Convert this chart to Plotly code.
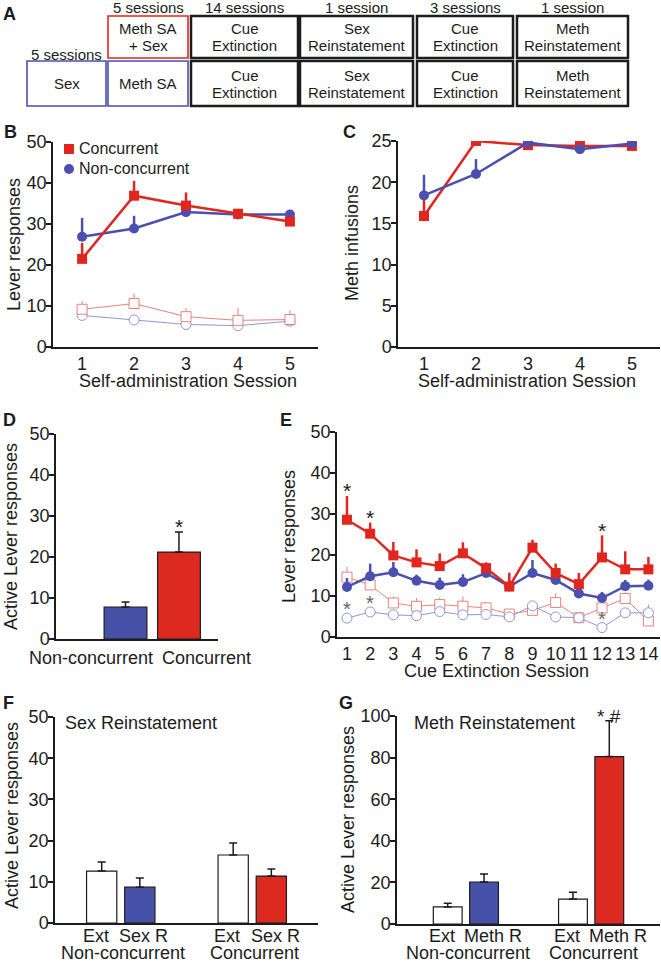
import plotly.graph_objects as go

W, H = 661, 962
FONT = "Liberation Sans, Arial, sans-serif"
INK = "#1c1c1c"
RED = "#E0261E"
BLUE = "#4A4FB0"
RED_LIGHT = "#E8837E"
BLUE_LIGHT = "#9296D4"
RED_BAR = "#DC2A20"
BLUE_BAR = "#4652A8"

# A: procedure
a_pre_count = "5 sessions"
a_session_counts = ["5 sessions", "14 sessions", "1 session", "3 sessions", "1 session"]
a_concurrent_steps = ["Meth SA<br>+ Sex", "Cue<br>Extinction", "Sex<br>Reinstatement",
                      "Cue<br>Extinction", "Meth<br>Reinstatement"]
a_nonconcurrent_steps = ["Sex", "Meth SA", "Cue<br>Extinction", "Sex<br>Reinstatement",
                         "Cue<br>Extinction", "Meth<br>Reinstatement"]

# B / C: self-administration
sa_session = [1, 2, 3, 4, 5]
b_conc_active = [21.5, 36.9, 34.5, 32.5, 30.6]
b_conc_active_err = [3.9, 3.6, 3.2, 1.2, 0.5]
b_nonc_active = [26.9, 28.9, 32.9, 32.3, 32.3]
b_nonc_active_err = [4.6, 3.1, 0.5, 0.5, 0.4]
b_conc_inactive = [9.2, 10.6, 7.4, 6.5, 6.7]
b_conc_inactive_err = [2.0, 2.5, 2.0, 3.1, 2.3]
b_nonc_inactive = [7.7, 6.6, 5.5, 5.2, 6.3]
b_nonc_inactive_err = [0.3, 0.3, 0.3, 0.3, 0.3]

c_conc = [15.9, 25.0, 24.5, 24.4, 24.4]
c_conc_err = [2.0, 0.1, 0.3, 0.6, 0.3]
c_nonc = [18.4, 21.0, 24.8, 24.0, 24.7]
c_nonc_err = [2.5, 1.8, 0.2, 0.3, 0.2]

# D: active lever, mean of SA
d_groups = ["Non-concurrent", "Concurrent"]
d_vals = [7.8, 21.2]
d_err = [1.2, 4.9]

# E: cue extinction
ext_session = list(range(1, 15))
e_conc_active = [28.6, 25.2, 19.9, 18.2, 17.3, 20.4, 16.8, 12.3, 21.8, 15.6, 12.9, 19.4, 16.5, 16.5]
e_conc_active_err = [5.8, 2.7, 3.3, 3.2, 3.1, 2.7, 1.4, 3.4, 1.9, 2.3, 2.7, 5.4, 4.4, 3.0]
e_nonc_active = [12.2, 14.8, 15.8, 13.7, 12.7, 13.4, 15.6, 12.3, 15.6, 13.9, 10.6, 9.5, 12.4, 12.5]
e_nonc_active_err = [2.2, 3.1, 2.5, 1.5, 1.8, 1.9, 1.2, 1.5, 3.2, 1.5, 1.3, 1.5, 1.5, 1.5]
e_conc_inactive = [14.6, 12.7, 8.3, 7.5, 7.9, 7.5, 7.1, 5.6, 6.5, 8.4, 4.7, 7.1, 9.4, 3.9]
e_conc_inactive_err = [2.5, 2.0, 1.5, 2.0, 1.8, 2.4, 1.4, 1.0, 1.2, 2.2, 1.0, 1.9, 1.5, 1.5]
e_nonc_inactive = [4.6, 6.1, 5.4, 5.2, 6.2, 5.4, 5.5, 4.9, 7.6, 4.9, 4.7, 2.3, 5.9, 5.9]
e_nonc_inactive_err = [0.8, 1.0, 0.6, 0.5, 0.7, 0.6, 0.6, 0.5, 1.0, 0.5, 0.5, 0.6, 0.7, 2.0]
e_star_active = [1, 2, 12]
e_star_inactive = [1, 2, 12]

# F / G: reinstatement
groups = ["Non-concurrent", "Concurrent"]
f_labels = ["Ext", "Sex R"]
f_ext = [12.6, 16.5]
f_ext_err = [2.2, 2.9]
f_rein = [8.7, 11.4]
f_rein_err = [2.2, 1.7]
g_labels = ["Ext", "Meth R"]
g_ext = [8.2, 12.0]
g_ext_err = [1.8, 3.3]
g_rein = [20.2, 80.5]
g_rein_err = [3.8, 17.2]

BAR_W = 0.23
OFFSETS = [-0.26, 0.03]


def xd(x0, x1):
    return [x0 / W, x1 / W]


def yd(top, bottom):
    return [1 - bottom / H, 1 - top / H]


def px(x, y):
    return x / W, 1 - y / H


def line(x, y, err, color, symbol, filled, width, ax):
    return go.Scatter(
        x=x, y=y, mode="lines+markers", xaxis="x" + ax, yaxis="y" + ax,
        line=dict(color=color, width=width),
        marker=dict(symbol=symbol, size=10, color=color if filled else "white",
                    line=dict(color=color, width=0 if filled else 1)),
        error_y=dict(type="data", symmetric=False, array=err, arrayminus=[0] * len(err),
                     color=color, thickness=width, width=0),
        showlegend=False)


def bar(x, y, err, colors, ax, width, offset=None):
    return go.Bar(
        x=x, y=y, xaxis="x" + ax, yaxis="y" + ax, width=width, offset=offset,
        marker=dict(color=colors, line=dict(color=INK, width=1.2)),
        error_y=dict(type="data", symmetric=False, array=err, arrayminus=[0] * len(err),
                     color=INK, thickness=1.5, width=4),
        showlegend=False)


fig = go.Figure()

# B
fig.add_trace(line(sa_session, b_nonc_inactive, b_nonc_inactive_err, BLUE_LIGHT, "circle", False, 1, ""))
fig.add_trace(line(sa_session, b_conc_inactive, b_conc_inactive_err, RED_LIGHT, "square", False, 1, ""))
fig.add_trace(line(sa_session, b_nonc_active, b_nonc_active_err, BLUE, "circle", True, 2.5, ""))
fig.add_trace(line(sa_session, b_conc_active, b_conc_active_err, RED, "square", True, 2.5, ""))
# C
fig.add_trace(line(sa_session, c_conc, c_conc_err, RED, "square", True, 2.5, "2"))
fig.add_trace(line(sa_session, c_nonc, c_nonc_err, BLUE, "circle", True, 2.5, "2"))
# D
fig.add_trace(bar(d_groups, d_vals, d_err, [BLUE_BAR, RED_BAR], "3", 0.8))
# E
fig.add_trace(line(ext_session, e_conc_inactive, e_conc_inactive_err, RED_LIGHT, "square", False, 1, "4"))
fig.add_trace(line(ext_session, e_nonc_inactive, e_nonc_inactive_err, BLUE_LIGHT, "circle", False, 1, "4"))
fig.add_trace(line(ext_session, e_nonc_active, e_nonc_active_err, BLUE, "circle", True, 2.5, "4"))
fig.add_trace(line(ext_session, e_conc_active, e_conc_active_err, RED, "square", True, 2.5, "4"))
# F
fig.add_trace(bar(groups, f_ext, f_ext_err, "white", "5", BAR_W, OFFSETS[0]))
fig.add_trace(bar(groups, f_rein, f_rein_err, [BLUE_BAR, RED_BAR], "5", BAR_W, OFFSETS[1]))
# G
fig.add_trace(bar(groups, g_ext, g_ext_err, "white", "6", BAR_W, OFFSETS[0]))
fig.add_trace(bar(groups, g_rein, g_rein_err, [BLUE_BAR, RED_BAR], "6", BAR_W, OFFSETS[1]))

axis = dict(showline=True, linecolor=INK, linewidth=1.5, showgrid=False, zeroline=False,
            automargin=False, tickfont=dict(size=18, color=INK), tickcolor=INK, tickwidth=1.5)
yaxis = dict(axis, ticks="outside", ticklen=5, ticklabelstandoff=-4)
xaxis = dict(axis, ticks="", ticklen=0)

fig.update_layout(
    template="none",
    width=W, height=H, margin=dict(l=0, r=0, t=0, b=0, autoexpand=False),
    paper_bgcolor="white", plot_bgcolor="white", showlegend=False,
    font=dict(family=FONT, size=18, color=INK),
    xaxis=dict(xaxis, domain=xd(53, 318), range=[0.44, 5.54], tickvals=sa_session, anchor="y"),
    yaxis=dict(yaxis, domain=yd(142, 347), range=[0, 50], dtick=10, anchor="x"),
    xaxis2=dict(xaxis, domain=xd(398, 660), range=[0.5, 5.54], tickvals=sa_session, anchor="y2"),
    yaxis2=dict(yaxis, domain=yd(141, 347), range=[0, 25], dtick=5, anchor="x2"),
    xaxis3=dict(xaxis, domain=xd(56, 218), range=[-1.3, 1.73], showticklabels=False, anchor="y3"),
    yaxis3=dict(yaxis, domain=yd(434, 639), range=[0, 50], dtick=10, anchor="x3"),
    xaxis4=dict(xaxis, domain=xd(337, 660), range=[0.57, 14.5], tickvals=ext_session, anchor="y4"),
    yaxis4=dict(yaxis, domain=yd(432, 637), range=[0, 50], dtick=10, anchor="x4"),
    xaxis5=dict(xaxis, domain=xd(55, 318), range=[-0.5, 1.5], showticklabels=False, anchor="y5"),
    yaxis5=dict(yaxis, domain=yd(717, 923), range=[0, 50], dtick=10, anchor="x5"),
    xaxis6=dict(xaxis, domain=xd(397, 660), range=[-0.55, 1.55], showticklabels=False, anchor="y6"),
    yaxis6=dict(yaxis, domain=yd(716, 924), range=[0, 100], dtick=20, anchor="x6"),
)


def note(text, x, y, size=18, anchor="center", angle=0, bold=False, color=INK):
    xp, yp = px(x, y)
    fig.add_annotation(text="<b>%s</b>" % text if bold else text, x=xp, y=yp,
                       xref="paper", yref="paper", showarrow=False, xanchor=anchor,
                       yanchor="middle", textangle=angle, font=dict(size=size, color=color))


# panel A boxes
cols = [(108, 188), (191, 298), (300, 413), (417, 513), (517, 628)]
rows = [(16, 58), (61, 106)]


def box(x0, x1, row, color, lw, text):
    y0, y1 = row
    a, b = px(x0, y0), px(x1, y1)
    fig.add_shape(type="rect", xref="paper", yref="paper", x0=a[0], y0=a[1], x1=b[0], y1=b[1],
                  line=dict(color=color, width=lw), fillcolor="white")
    parts = text.split("<br>")
    mid = (y0 + y1) / 2
    for k, part in enumerate(parts):
        note(part, (x0 + x1) / 2, mid + (k - (len(parts) - 1) / 2) * 17, size=15)


for i, (x0, x1) in enumerate(cols):
    note(a_session_counts[i], (x0 + x1) / 2, 7, size=15)
    box(x0, x1, rows[0], RED if i == 0 else INK, 1.6 if i == 0 else 2.5, a_concurrent_steps[i])
note(a_pre_count, 66, 54, size=15)
box(27, 106, rows[1], BLUE, 1.6, a_nonconcurrent_steps[0])
for i, (x0, x1) in enumerate(cols):
    box(x0, x1, rows[1], BLUE if i == 0 else INK, 1.6 if i == 0 else 2.5, a_nonconcurrent_steps[i + 1])

# legend in B
sq0, sq1 = px(64, 144), px(74, 154)
fig.add_shape(type="rect", xref="paper", yref="paper", x0=sq0[0], y0=sq0[1], x1=sq1[0], y1=sq1[1],
              line=dict(width=0), fillcolor=RED)
c0, c1 = px(64, 164), px(74, 174)
fig.add_shape(type="circle", xref="paper", yref="paper", x0=c0[0], y0=c0[1], x1=c1[0], y1=c1[1],
              line=dict(width=0), fillcolor=BLUE)
note("Concurrent", 77, 149, size=16, anchor="left")
note("Non-concurrent", 77, 169, size=16, anchor="left")

# panel letters
for letter, x, y in [("A", 9, 14), ("B", 10, 132), ("C", 349, 132), ("D", 9, 420),
                     ("E", 286, 420), ("F", 8, 703), ("G", 346, 703)]:
    note(letter, x, y, size=18, bold=True)

# axis titles
note("Lever responses", 14, 245, angle=-90)
note("Meth infusions", 352, 243, angle=-90)
note("Active Lever responses", 11, 537, angle=-90)
note("Lever responses", 289, 537, angle=-90)
note("Active Lever responses", 12, 816, angle=-90)
note("Active Lever responses", 348, 820, angle=-90)
note("Self-administration Session", 188, 381)
note("Self-administration Session", 527, 381)
note("Cue Extinction Session", 496, 671)
note("Sex Reinstatement", 63, 723, anchor="left")
note("Meth Reinstatement", 412, 723, anchor="left")

# category labels
fig.add_annotation(text=d_groups[0], x=0.5, y=px(0, 658)[1], xref="x3", yref="paper",
                   xanchor="right", yanchor="middle", showarrow=False, font=dict(size=18), xshift=3)
fig.add_annotation(text=d_groups[1], x=0.5, y=px(0, 658)[1], xref="x3", yref="paper",
                   xanchor="left", yanchor="middle", showarrow=False, font=dict(size=18), xshift=8)
label_shift = {"Ext": -6, "Sex R": 4, "Meth R": 9}
for ax, labels in [("x5", f_labels), ("x6", g_labels)]:
    for i, g in enumerate(groups):
        fig.add_annotation(text=g, x=i, y=px(0, 953)[1], xref=ax, yref="paper", yanchor="middle",
                           showarrow=False, font=dict(size=18), xshift=2)
        for j, lab in enumerate(labels):
            fig.add_annotation(text=lab, x=i + OFFSETS[j] + BAR_W / 2, y=px(0, 936)[1], xref=ax,
                               yref="paper", yanchor="middle", showarrow=False,
                               font=dict(size=18), xshift=label_shift[lab])

# significance marks
star_font = dict(size=21, color=INK)
fig.add_annotation(text="*", x=d_groups[1], y=d_vals[1] + d_err[1], xref="x3", yref="y3",
                   showarrow=False, yanchor="middle", yshift=5, font=star_font)
for s in e_star_active:
    i = ext_session.index(s)
    fig.add_annotation(text="*", x=s, y=e_conc_active[i] + e_conc_active_err[i], xref="x4",
                       yref="y4", showarrow=False, yanchor="middle", yshift=5, font=star_font)
for s in e_star_inactive:
    i = ext_session.index(s)
    fig.add_annotation(text="*", x=s, y=e_nonc_inactive[i], xref="x4", yref="y4",
                       showarrow=False, yanchor="middle", yshift=9,
                       font=dict(size=20, color="#666"))
fig.add_annotation(text="* #", x=1 + OFFSETS[1] + BAR_W / 2, y=g_rein[1] + g_rein_err[1],
                   xref="x6", yref="y6", showarrow=False, yanchor="middle", yshift=4,
                   font=dict(size=19))

fig.write_html("out.html", config={"displayModeBar": False},
               post_script="document.body.style.margin='0';")
